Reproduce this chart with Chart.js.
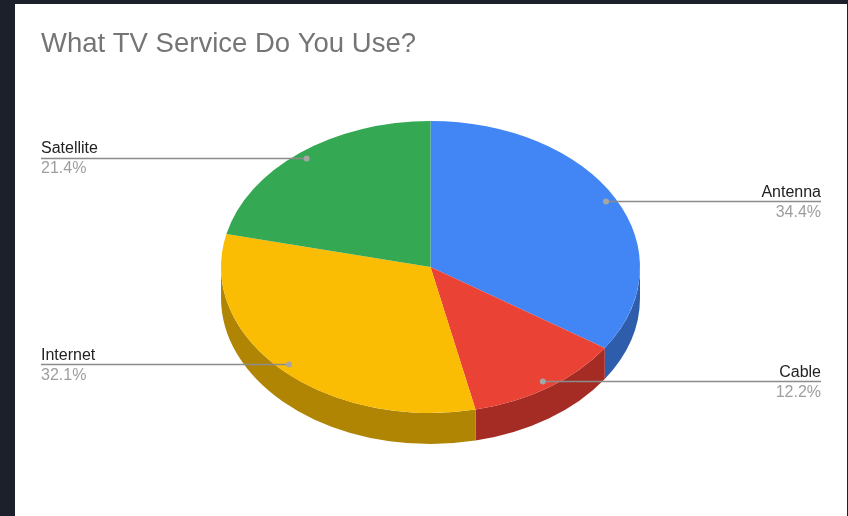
<!DOCTYPE html>
<html>
<head>
<meta charset="utf-8">
<title>What TV Service Do You Use?</title>
<script src="https://cdn.jsdelivr.net/npm/chart.js@4.4.0/dist/chart.umd.min.js"></script>
<style>
  html, body { margin: 0; padding: 0; background: #1b202b; }
  body { width: 848px; height: 516px; overflow: hidden; position: relative; }
  #panel { position: absolute; left: 15px; top: 4px; width: 832px; height: 512px; background: #fff; }
</style>
</head>
<body>
<div id="panel"><canvas id="myChart" width="832" height="512"></canvas></div>
<script>
const labels = ['Antenna', 'Cable', 'Internet', 'Satellite'];
const values = [34.4, 12.2, 32.1, 21.4];
const colors = ['#4285f4', '#ea4335', '#fbbc04', '#34a853'];
const sideColors = ['#2e5dab', '#a52c25', '#b08503', '#24763a'];

// where the tilted pie sits on the canvas
const pie = { x: 415.5, y: 263, rx: 209.5, ry: 146, depth: 31 };
const labelLeft = 26;
const labelRight = 806;
const labelFont = '16px "Liberation Sans", Arial, sans-serif';

let myChart;

const total = values.reduce((a, b) => a + b, 0);

const pie3d = {
    id: 'pie3d',
    beforeDatasetsDraw(chart) {
        const ctx = chart.ctx;
        const arcs = chart.getDatasetMeta(0).data;

        // side walls, only the front half (0..PI) can be seen
        arcs.forEach((arc, i) => {
            const a = Math.max(arc.startAngle, 0);
            const b = Math.min(arc.endAngle, Math.PI);
            if (a >= b) return;
            ctx.beginPath();
            ctx.ellipse(pie.x, pie.y, pie.rx, pie.ry, 0, a, b);
            ctx.ellipse(pie.x, pie.y + pie.depth, pie.rx, pie.ry, 0, b, a, true);
            ctx.closePath();
            ctx.fillStyle = sideColors[i];
            ctx.fill();
        });

        // squash the round pie into the top face
        const r = arcs[0].outerRadius;
        ctx.save();
        ctx.translate(pie.x, pie.y);
        ctx.scale(pie.rx / r, pie.ry / r);
        ctx.translate(-arcs[0].x, -arcs[0].y);
    },
    afterDatasetsDraw(chart) {
        const ctx = chart.ctx;
        ctx.restore();

        const arcs = chart.getDatasetMeta(0).data;
        ctx.save();
        ctx.font = labelFont;
        arcs.forEach((arc, i) => {
            const mid = (arc.startAngle + arc.endAngle) / 2;
            const px = pie.x + 0.95 * pie.rx * Math.cos(mid);
            const py = pie.y + 0.95 * pie.ry * Math.sin(mid);
            const right = Math.cos(mid) > 0;
            const tx = right ? labelRight : labelLeft;

            ctx.strokeStyle = '#8c8c8c';
            ctx.lineWidth = 1.5;
            ctx.beginPath();
            ctx.moveTo(px, py);
            ctx.lineTo(tx, py);
            ctx.stroke();

            ctx.fillStyle = '#a6a6a6';
            ctx.beginPath();
            ctx.arc(px, py, 3, 0, Math.PI * 2);
            ctx.fill();

            ctx.textAlign = right ? 'right' : 'left';
            ctx.textBaseline = 'alphabetic';
            ctx.fillStyle = '#222222';
            ctx.fillText(labels[i], tx, py - 5);
            ctx.fillStyle = '#9e9e9e';
            ctx.fillText((values[i] / total * 100).toFixed(1) + '%', tx, py + 15);
        });
        ctx.restore();
    }
};

const data = {
    labels: labels,
    datasets: [{
        data: values,
        backgroundColor: colors,
        borderWidth: 0,
        clip: false
    }]
};

const config = {
    type: 'pie',
    data: data,
    options: {
        responsive: false,
        animation: false,
        devicePixelRatio: 1,
        layout: { padding: { left: 26, right: 26 } },
        plugins: {
            legend: { display: false },
            tooltip: { enabled: false },
            title: {
                display: true,
                text: 'What TV Service Do You Use?',
                align: 'start',
                color: '#757575',
                font: { family: '"Liberation Sans", Arial, sans-serif', size: 27.5, weight: 'normal' },
                padding: { top: 24, bottom: 10 }
            }
        }
    },
    plugins: [pie3d]
};

myChart = new Chart(document.getElementById('myChart'), config);
</script>
</body>
</html>
